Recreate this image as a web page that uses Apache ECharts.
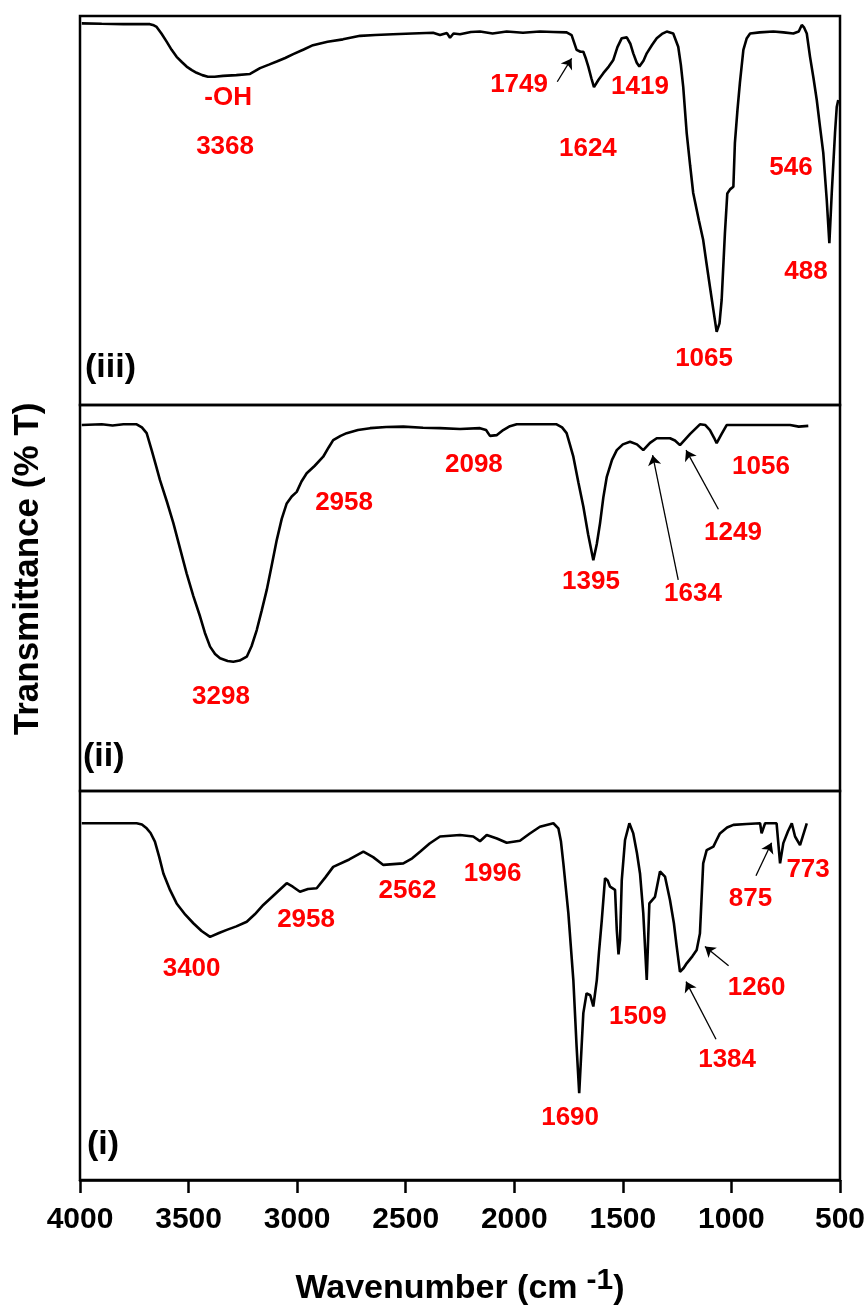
<!DOCTYPE html>
<html><head><meta charset="utf-8">
<script src="https://cdn.jsdelivr.net/npm/echarts@6/dist/echarts.min.js"></script>
<style>html,body{margin:0;padding:0;background:#fff}#c{width:866px;height:1310px}</style>
</head><body><div id="c"></div>
<script>
// Wavenumber axis ticks (cm-1)
const xMin = 500, xMax = 4000, xStep = 500;

// Spectrum (iii) [wavenumber, relative %T]
const specIII = [[3992,98.1],[3900,98.0],[3800,97.9],[3678,97.9],[3660,97.6],[3647,97.2],[3625,95.5],[3601,93.4],[3578,91.3],[3555,89.5],[3530,88.1],[3509,87.0],[3485,86.1],[3463,85.4],[3437,84.8],[3411,84.4],[3380,84.4],[3341,84.6],[3280,84.8],[3217,85.1],[3195,85.8],[3171,86.6],[3130,87.5],[3094,88.3],[3055,89.2],[3018,90.2],[2970,91.4],[2927,92.5],[2860,93.4],[2789,94.0],[2710,94.9],[2640,95.1],[2559,95.3],[2470,95.5],[2374,95.7],[2342,95.1],[2310,95.6],[2296,94.4],[2280,95.5],[2250,95.3],[2200,95.9],[2158,96.0],[2100,95.5],[2035,96.0],[1960,95.7],[1882,96.0],[1820,95.9],[1759,95.8],[1736,95.1],[1713,91.3],[1695,90.8],[1682,90.8],[1670,89.0],[1659,87.0],[1645,84.0],[1633,81.7],[1612,83.6],[1590,85.3],[1565,87.0],[1544,88.7],[1525,92.0],[1505,94.3],[1482,94.5],[1465,92.8],[1452,90.4],[1436,88.0],[1424,87.0],[1405,88.5],[1390,90.4],[1365,92.6],[1344,94.3],[1320,95.4],[1298,96.0],[1268,95.5],[1245,92.1],[1233,87.5],[1222,81.8],[1206,69.9],[1190,61.5],[1176,54.5],[1150,47.5],[1130,42.4],[1115,36.5],[1099,30.4],[1082,24.0],[1068,18.8],[1055,21.0],[1045,27.0],[1030,44.2],[1019,54.4],[1005,55.5],[991,56.1],[984,67.4],[972,76.0],[961,82.8],[945,91.3],[930,94.2],[914,95.5],[870,95.8],[807,96.0],[760,95.8],[715,95.5],[690,96.0],[676,97.7],[665,97.0],[653,95.5],[638,89.5],[622,84.0],[607,78.4],[592,71.5],[577,64.8],[561,52.7],[549,41.6],[538,54.5],[523,69.9],[515,76.6],[508,78.4]];

// Spectrum (ii)
const specII = [[3992,94.8],[3900,95.0],[3850,94.7],[3800,95.0],[3739,95.0],[3715,94.2],[3693,92.7],[3670,88.3],[3650,84.3],[3632,80.6],[3600,75.0],[3570,69.4],[3540,63.0],[3509,56.4],[3478,50.5],[3447,45.2],[3425,41.0],[3401,37.4],[3378,35.5],[3355,34.4],[3320,33.7],[3294,33.5],[3265,33.8],[3232,34.8],[3210,37.5],[3186,41.7],[3163,46.8],[3140,52.1],[3117,58.5],[3094,65.0],[3071,70.5],[3048,74.5],[3025,76.3],[3002,77.5],[2980,80.2],[2956,82.3],[2920,84.2],[2880,86.6],[2855,89.0],[2834,90.9],[2800,92.0],[2772,92.7],[2720,93.5],[2664,94.0],[2590,94.3],[2511,94.4],[2420,94.1],[2342,94.0],[2250,93.8],[2158,94.0],[2130,93.5],[2112,92.0],[2080,92.2],[2051,93.5],[2020,94.5],[1989,95.0],[1900,95.0],[1805,95.0],[1780,94.2],[1759,92.7],[1745,90.0],[1728,86.6],[1705,80.0],[1682,73.7],[1660,66.5],[1636,59.8],[1620,64.0],[1605,69.4],[1590,76.0],[1574,81.4],[1550,85.8],[1528,88.3],[1500,89.8],[1467,90.5],[1435,89.8],[1406,88.3],[1375,90.2],[1344,91.4],[1283,91.4],[1260,90.8],[1237,89.6],[1190,92.5],[1145,95.0],[1120,94.8],[1099,93.5],[1080,91.5],[1068,90.1],[1045,92.5],[1022,94.8],[900,94.8],[800,94.8],[730,94.8],[690,94.4],[646,94.6]];

// Spectrum (i)
const specI = [[3992,91.7],[3900,91.7],[3800,91.7],[3739,91.7],[3715,91.4],[3693,90.4],[3675,89.2],[3655,87.0],[3635,83.0],[3616,78.8],[3585,74.5],[3555,71.1],[3515,68.2],[3478,66.0],[3440,64.0],[3401,62.5],[3360,63.5],[3324,64.3],[3280,65.2],[3232,66.4],[3195,68.3],[3156,70.7],[3100,73.6],[3048,76.3],[3020,75.4],[2987,74.1],[2950,74.8],[2910,75.0],[2870,77.8],[2834,80.5],[2760,82.4],[2695,84.4],[2650,83.0],[2603,81.0],[2511,81.4],[2470,82.7],[2434,84.4],[2390,86.5],[2342,88.3],[2250,88.7],[2189,88.3],[2158,87.1],[2127,88.7],[2080,87.8],[2035,86.7],[1974,87.2],[1930,89.0],[1882,90.8],[1820,91.7],[1797,90.4],[1785,87.0],[1774,81.4],[1751,68.6],[1728,51.4],[1713,34.3],[1701,22.3],[1690,34.3],[1682,42.9],[1667,48.0],[1650,47.5],[1636,44.6],[1620,51.4],[1610,58.5],[1597,66.8],[1582,77.6],[1570,77.0],[1559,75.4],[1536,74.6],[1528,64.3],[1520,58.0],[1513,61.7],[1505,77.1],[1490,87.4],[1470,91.7],[1452,89.1],[1435,84.0],[1421,78.8],[1406,68.6],[1390,51.4],[1378,71.1],[1352,72.8],[1329,79.3],[1306,78.0],[1283,72.0],[1265,66.0],[1252,60.0],[1237,53.5],[1220,54.5],[1206,55.7],[1180,57.5],[1160,59.1],[1145,63.4],[1130,81.4],[1114,84.8],[1083,85.7],[1070,87.2],[1053,89.1],[1020,90.6],[991,91.3],[930,91.5],[868,91.7],[861,89.1],[845,91.7],[792,91.7],[776,81.4],[761,86.6],[740,89.6],[722,91.7],[707,88.3],[684,86.1],[653,91.7]];

// Peak labels [wavenumber, %T anchor, text]
const labelsIII = [[3318,78.9,'-OH'],[3332,66.3,'3368'],[1978,82.3,'1749'],[1661,65.8,'1624'],[1421,81.7,'1419'],[1126,11.8,'1065'],[726,60.9,'546'],[657,34.2,'488']];
const labelsII = [[3351,24.4,'3298'],[2784,74.7,'2958'],[2186,84.5,'2098'],[1647,54.2,'1395'],[1177,51.0,'1634'],[993,66.8,'1249'],[864,83.9,'1056']];
const labelsI = [[3486,54.2,'3400'],[2959,66.8,'2958'],[2492,74.4,'2562'],[2100,78.7,'1996'],[1743,15.9,'1690'],[1431,42.0,'1509'],[1020,31.0,'1384'],[884,49.3,'1260'],[912,72.2,'875'],[647,79.7,'773']];

// Panel tags [wavenumber, %T anchor, text]
const tags = [[3977,9.5,'(iii)'],[3986,8.8,'(ii)'],[3968,9.0,'(i)']];

// Arrows [fromWn, fromT, toWn, toT]
const arrowsIII = [[1802,83.1,1736,89.1]];
const arrowsII = [[1245,54.7,1363,87.0],[1060,73.0,1209,88.3]];
const arrowsI = [[1071,36.2,1209,51.0],[1013,55.1,1122,60.0],[887,78.2,815,86.7]];

const FONT = 'Liberation Sans, Arial, sans-serif';
const grids = [
  {left:80, width:760, top:16, height:389},
  {left:80, width:760, top:405, height:386},
  {left:80, width:760, top:791, height:389}
].map(g => Object.assign(g, {show:true, borderColor:'#000', borderWidth:2.5, containLabel:false, outerBoundsMode:'none'}));

function xAx(i, shown){
  const a = {type:'value', gridIndex:i, inverse:true, min:xMin, max:xMax, interval:xStep, splitLine:{show:false}};
  if(!shown){ a.show = false; return a; }
  return Object.assign(a, {
    axisLine:{show:true, lineStyle:{color:'#000', width:2.5}},
    axisTick:{show:true, inside:false, length:13, lineStyle:{color:'#000', width:2.5}},
    axisLabel:{show:true, color:'#000', fontFamily:FONT, fontWeight:'bold', fontSize:30, margin:25,
      formatter: v => String(v)},
    name:'{a|Wavenumber (cm}{s|-1}{a|)}', nameLocation:'middle', nameGap:86,
    nameTextStyle:{rich:{
      a:{fontFamily:FONT, fontWeight:'bold', fontSize:34, color:'#000', lineHeight:40, verticalAlign:'bottom'},
      s:{fontFamily:FONT, fontWeight:'bold', fontSize:30, color:'#000', lineHeight:40, verticalAlign:'top', padding:[0,0,12,9]}
    }}
  });
}
function yAx(i){ return {type:'value', gridIndex:i, min:0, max:100, show:false}; }

function lineSeries(i, data, arrows){
  return {type:'line', xAxisIndex:i, yAxisIndex:i, data:data, showSymbol:false, symbol:'none',
    lineStyle:{color:'#000', width:2.6}, silent:true,
    markLine:{silent:true, symbol:['none','arrow'], symbolSize:10, label:{show:false},
      lineStyle:{color:'#000', width:1.3, type:'solid', opacity:1},
      data: arrows.map(a => [{coord:[a[0],a[1]]},{coord:[a[2],a[3]]}])}};
}
function labelSeries(i, arr, color, size, pos){
  return {type:'scatter', xAxisIndex:i, yAxisIndex:i, symbolSize:0, silent:true,
    itemStyle:{opacity:1, color:color},
    data: arr.map(d => ({value:[d[0],d[1]], name:d[2]})),
    label:{show:true, position:pos, distance:0, formatter:p => p.name, color:color, opacity:1,
      textBorderWidth:0, fontFamily:FONT, fontWeight:'bold', fontSize:size}};
}

const option = {
  animation:false,
  backgroundColor:'#fff',
  grid: grids,
  xAxis: [xAx(0,false), xAx(1,false), xAx(2,true)],
  yAxis: [yAx(0), yAx(1), yAx(2)],
  graphic: [{type:'text', x:28, y:569, rotation:Math.PI/2,
    style:{text:'Transmittance (% T)', fill:'#000', font:'bold 35px ' + FONT, textAlign:'center', textVerticalAlign:'middle'}}],
  series: [
    lineSeries(0, specIII, arrowsIII),
    lineSeries(1, specII, arrowsII),
    lineSeries(2, specI, arrowsI),
    labelSeries(0, labelsIII, '#ff0000', 26, 'inside'),
    labelSeries(1, labelsII, '#ff0000', 26, 'inside'),
    labelSeries(2, labelsI, '#ff0000', 26, 'inside'),
    labelSeries(0, [tags[0]], '#000000', 34, 'right'),
    labelSeries(1, [tags[1]], '#000000', 34, 'right'),
    labelSeries(2, [tags[2]], '#000000', 34, 'right')
  ]
};
const chart = echarts.init(document.getElementById('c'), null, {renderer:'canvas'});
chart.setOption(option);
</script></body></html>
